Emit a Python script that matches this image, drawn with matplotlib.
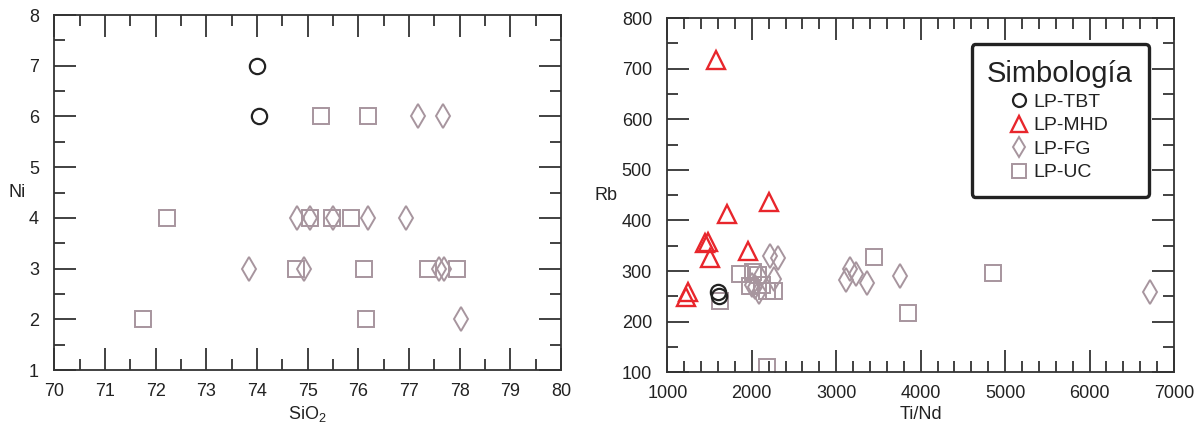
import numpy as np
import matplotlib
matplotlib.use("Agg")
import matplotlib.pyplot as plt
from matplotlib.ticker import MultipleLocator

plt.rcParams['font.family'] = ['Liberation Sans', 'DejaVu Sans']
plt.rcParams['mathtext.fontset'] = 'custom'
plt.rcParams['mathtext.rm'] = 'Liberation Sans'
plt.rcParams['mathtext.it'] = 'Liberation Sans:italic'

# ==========================
# DATOS
# ==========================
# Ni vs SiO2
tbt_sio2 = [74.0, 74.03]
tbt_ni = [7, 6]

fg_sio2 = [77.17, 77.68, 74.79, 75.05, 75.5, 76.2, 76.94, 73.84, 74.92, 77.6, 77.7, 78.02]
fg_ni = [6, 6, 4, 4, 4, 4, 4, 3, 3, 3, 3, 2]

uc_sio2 = [75.26, 76.2, 72.23, 75.05, 75.48, 75.86, 74.77, 76.11, 77.38, 77.94, 71.75, 76.15]
uc_ni = [6, 6, 4, 4, 4, 4, 3, 3, 3, 3, 2, 2]

# Rb vs Ti/Nd
tbt_tind = [1600, 1610]
tbt_rb = [258, 250]

mhd_tind = [1580, 2200, 1705, 1450, 1485, 1500, 1960, 1220, 1250]
mhd_rb = [717, 436, 412, 355, 358, 325, 340, 248, 258]

fg_tind = [2210, 2310, 2260, 2100, 2040, 2080, 2000, 3160, 3110, 3230, 3370, 3750, 6720]
fg_rb = [330, 325, 285, 288, 268, 258, 272, 305, 282, 295, 276, 290, 258]

uc_tind = [1861, 2011, 2078, 1979, 2118, 2184, 2263, 1624, 2177, 3450, 3855, 4860]
uc_rb = [295, 299, 292, 270, 272, 261, 261, 241, 111, 328, 217, 297]

# ==========================
# ESTILOS
# ==========================
c_tbt = '#222222'
c_mhd = '#e8262c'
c_gris = '#a7959e'

est_tbt = dict(marker='o', ms=11, mew=1.6, mec=c_tbt, mfc='none', ls='none')
est_mhd = dict(marker='^', ms=13.5, mew=1.7, mec=c_mhd, mfc='none', ls='none')
est_fg = dict(marker='d', ms=12, mew=1.4, mec=c_gris, mfc='none', ls='none')
est_uc = dict(marker='s', ms=11.5, mew=1.4, mec=c_gris, mfc='none', ls='none')


def formato(ax):
    for s in ax.spines.values():
        s.set_color('#333333')
        s.set_linewidth(1.3)
    ax.tick_params(which='both', direction='in', top=True, right=True,
                   color='#333333', width=1.3, labelsize=13, labelcolor='#222222')
    ax.tick_params(which='major', length=16)
    ax.tick_params(which='minor', length=8)
    ax.tick_params(axis='x', which='major', pad=9)
    ax.tick_params(axis='y', which='major', pad=11)


fig = plt.figure(figsize=(11.97, 4.25), dpi=100)

# ==========================
# GRÁFICO 1: Ni vs SiO2
# ==========================
ax1 = fig.add_axes([0.0454, 0.1294, 0.4233, 0.8353])
ax1.plot(uc_sio2, uc_ni, **est_uc)
ax1.plot(fg_sio2, fg_ni, **est_fg)
ax1.plot(tbt_sio2, tbt_ni, **est_tbt)
ax1.set_xlim(70, 80)
ax1.set_ylim(1, 8)
ax1.xaxis.set_major_locator(MultipleLocator(1))
ax1.xaxis.set_minor_locator(MultipleLocator(0.5))
ax1.yaxis.set_major_locator(MultipleLocator(1))
ax1.yaxis.set_minor_locator(MultipleLocator(0.5))
formato(ax1)
ax1.set_xlabel('SiO$_2$', fontsize=13, color='#222222', labelpad=3)
ax1.set_ylabel('Ni', fontsize=13, color='#222222', rotation=0, ha='center', va='center')
ax1.yaxis.set_label_coords(-0.074, 0.5)

# ==========================
# GRÁFICO 2: Rb vs Ti/Nd
# ==========================
ax2 = fig.add_axes([0.5575, 0.124, 0.4233, 0.8336])
ax2.plot(uc_tind, uc_rb, **est_uc, label='LP-UC')
ax2.plot(fg_tind, fg_rb, **est_fg, label='LP-FG')
ax2.plot(mhd_tind, mhd_rb, **est_mhd, label='LP-MHD')
ax2.plot(tbt_tind, tbt_rb, **est_tbt, label='LP-TBT')
ax2.set_xlim(1000, 7000)
ax2.set_ylim(100, 800)
ax2.xaxis.set_major_locator(MultipleLocator(1000))
ax2.xaxis.set_minor_locator(MultipleLocator(200))
ax2.yaxis.set_major_locator(MultipleLocator(100))
ax2.yaxis.set_minor_locator(MultipleLocator(50))
formato(ax2)
ax2.set_xlabel('Ti/Nd', fontsize=13, color='#222222', labelpad=3)
ax2.set_ylabel('Rb', fontsize=13, color='#222222', rotation=0, ha='center', va='center')
ax2.yaxis.set_label_coords(-0.121, 0.5)

h, l = ax2.get_legend_handles_labels()
orden = [3, 2, 1, 0]
leg = ax2.legend([h[i] for i in orden], [l[i] for i in orden],
                 title='Simbología', title_fontsize=21, fontsize=14,
                 loc='upper right', bbox_to_anchor=(0.969, 0.954),
                 frameon=True, fancybox=True, framealpha=1,
                 handlelength=0.8, handletextpad=0.35, labelspacing=0.3,
                 borderpad=0.8, markerscale=0.85)
leg.get_frame().set_edgecolor('#222222')
leg.get_frame().set_linewidth(2.4)
leg.get_title().set_color('#222222')
for t in leg.get_texts():
    t.set_color('#222222')

fig.savefig('out.png', dpi=100)
